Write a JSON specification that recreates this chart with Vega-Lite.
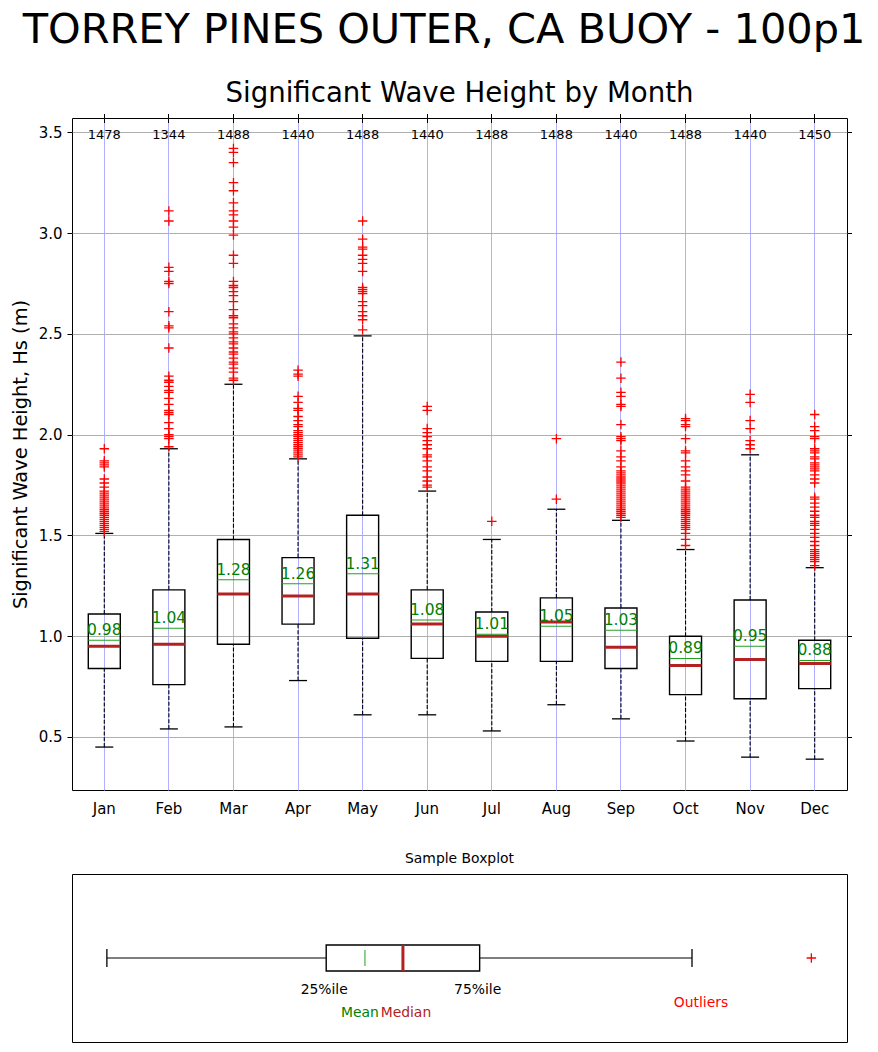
{
  "$schema": "https://vega.github.io/schema/vega-lite/v6.json",
  "padding": {"left": 9, "top": 10, "right": 20, "bottom": 5},
  "title": {"text": "TORREY PINES OUTER, CA BUOY - 100p1", "fontSize": 41.5, "fontWeight": "normal", "anchor": "middle", "offset": 28, "dx": 13, "color": "black"},
  "spacing": 34,
  "datasets": {
    "stats": [
      {"month": "Jan", "n": 1478, "low": 0.45, "q1": 0.84, "median": 0.95, "mean": 0.98, "q3": 1.11, "high": 1.51},
      {"month": "Feb", "n": 1344, "low": 0.54, "q1": 0.76, "median": 0.96, "mean": 1.04, "q3": 1.23, "high": 1.93},
      {"month": "Mar", "n": 1488, "low": 0.55, "q1": 0.96, "median": 1.21, "mean": 1.28, "q3": 1.48, "high": 2.25},
      {"month": "Apr", "n": 1440, "low": 0.78, "q1": 1.06, "median": 1.2, "mean": 1.26, "q3": 1.39, "high": 1.88},
      {"month": "May", "n": 1488, "low": 0.61, "q1": 0.99, "median": 1.21, "mean": 1.31, "q3": 1.6, "high": 2.49},
      {"month": "Jun", "n": 1440, "low": 0.61, "q1": 0.89, "median": 1.06, "mean": 1.08, "q3": 1.23, "high": 1.72},
      {"month": "Jul", "n": 1488, "low": 0.53, "q1": 0.875, "median": 1.0, "mean": 1.01, "q3": 1.12, "high": 1.48},
      {"month": "Aug", "n": 1488, "low": 0.66, "q1": 0.875, "median": 1.07, "mean": 1.05, "q3": 1.19, "high": 1.63},
      {"month": "Sep", "n": 1440, "low": 0.59, "q1": 0.84, "median": 0.945, "mean": 1.03, "q3": 1.14, "high": 1.575},
      {"month": "Oct", "n": 1488, "low": 0.48, "q1": 0.71, "median": 0.855, "mean": 0.89, "q3": 1.0, "high": 1.43},
      {"month": "Nov", "n": 1440, "low": 0.4, "q1": 0.69, "median": 0.885, "mean": 0.95, "q3": 1.18, "high": 1.9},
      {"month": "Dec", "n": 1450, "low": 0.39, "q1": 0.74, "median": 0.865, "mean": 0.88, "q3": 0.98, "high": 1.34}
    ],
    "outliers": [
      {"month": "Jan", "hs": 1.93}, {"month": "Jan", "hs": 1.87}, {"month": "Jan", "hs": 1.86}, {"month": "Jan", "hs": 1.85}, {"month": "Jan", "hs": 1.84},
      {"month": "Jan", "hs": 1.78}, {"month": "Jan", "hs": 1.76}, {"month": "Jan", "hs": 1.74}, {"month": "Jan", "hs": 1.72}, {"month": "Jan", "hs": 1.71},
      {"month": "Jan", "hs": 1.70}, {"month": "Jan", "hs": 1.69}, {"month": "Jan", "hs": 1.68}, {"month": "Jan", "hs": 1.67}, {"month": "Jan", "hs": 1.66},
      {"month": "Jan", "hs": 1.65}, {"month": "Jan", "hs": 1.64}, {"month": "Jan", "hs": 1.63}, {"month": "Jan", "hs": 1.62}, {"month": "Jan", "hs": 1.61},
      {"month": "Jan", "hs": 1.60}, {"month": "Jan", "hs": 1.59}, {"month": "Jan", "hs": 1.58}, {"month": "Jan", "hs": 1.57}, {"month": "Jan", "hs": 1.56},
      {"month": "Jan", "hs": 1.55}, {"month": "Jan", "hs": 1.54}, {"month": "Jan", "hs": 1.53}, {"month": "Jan", "hs": 1.52},
      {"month": "Feb", "hs": 3.11}, {"month": "Feb", "hs": 3.06}, {"month": "Feb", "hs": 2.83}, {"month": "Feb", "hs": 2.81}, {"month": "Feb", "hs": 2.76},
      {"month": "Feb", "hs": 2.75}, {"month": "Feb", "hs": 2.61}, {"month": "Feb", "hs": 2.54}, {"month": "Feb", "hs": 2.53}, {"month": "Feb", "hs": 2.43},
      {"month": "Feb", "hs": 2.29}, {"month": "Feb", "hs": 2.27}, {"month": "Feb", "hs": 2.26}, {"month": "Feb", "hs": 2.24}, {"month": "Feb", "hs": 2.22},
      {"month": "Feb", "hs": 2.21}, {"month": "Feb", "hs": 2.18}, {"month": "Feb", "hs": 2.15}, {"month": "Feb", "hs": 2.12}, {"month": "Feb", "hs": 2.11},
      {"month": "Feb", "hs": 2.10}, {"month": "Feb", "hs": 2.06}, {"month": "Feb", "hs": 2.03}, {"month": "Feb", "hs": 2.00}, {"month": "Feb", "hs": 1.99},
      {"month": "Feb", "hs": 1.98}, {"month": "Feb", "hs": 1.94},
      {"month": "Mar", "hs": 3.42}, {"month": "Mar", "hs": 3.40}, {"month": "Mar", "hs": 3.35}, {"month": "Mar", "hs": 3.25}, {"month": "Mar", "hs": 3.21},
      {"month": "Mar", "hs": 3.15}, {"month": "Mar", "hs": 3.11}, {"month": "Mar", "hs": 3.09}, {"month": "Mar", "hs": 3.06}, {"month": "Mar", "hs": 3.03},
      {"month": "Mar", "hs": 2.99}, {"month": "Mar", "hs": 2.89}, {"month": "Mar", "hs": 2.85}, {"month": "Mar", "hs": 2.76}, {"month": "Mar", "hs": 2.74},
      {"month": "Mar", "hs": 2.73}, {"month": "Mar", "hs": 2.71}, {"month": "Mar", "hs": 2.69}, {"month": "Mar", "hs": 2.66}, {"month": "Mar", "hs": 2.62},
      {"month": "Mar", "hs": 2.59}, {"month": "Mar", "hs": 2.58}, {"month": "Mar", "hs": 2.55}, {"month": "Mar", "hs": 2.53}, {"month": "Mar", "hs": 2.51},
      {"month": "Mar", "hs": 2.50}, {"month": "Mar", "hs": 2.48}, {"month": "Mar", "hs": 2.46}, {"month": "Mar", "hs": 2.45}, {"month": "Mar", "hs": 2.43},
      {"month": "Mar", "hs": 2.41}, {"month": "Mar", "hs": 2.40}, {"month": "Mar", "hs": 2.38}, {"month": "Mar", "hs": 2.36}, {"month": "Mar", "hs": 2.35},
      {"month": "Mar", "hs": 2.33}, {"month": "Mar", "hs": 2.31}, {"month": "Mar", "hs": 2.28}, {"month": "Mar", "hs": 2.27},
      {"month": "Apr", "hs": 2.32}, {"month": "Apr", "hs": 2.30}, {"month": "Apr", "hs": 2.29}, {"month": "Apr", "hs": 2.19}, {"month": "Apr", "hs": 2.16},
      {"month": "Apr", "hs": 2.13}, {"month": "Apr", "hs": 2.12}, {"month": "Apr", "hs": 2.09}, {"month": "Apr", "hs": 2.07}, {"month": "Apr", "hs": 2.05},
      {"month": "Apr", "hs": 2.04}, {"month": "Apr", "hs": 2.02}, {"month": "Apr", "hs": 2.01}, {"month": "Apr", "hs": 2.00}, {"month": "Apr", "hs": 1.99},
      {"month": "Apr", "hs": 1.98}, {"month": "Apr", "hs": 1.97}, {"month": "Apr", "hs": 1.96}, {"month": "Apr", "hs": 1.95}, {"month": "Apr", "hs": 1.94},
      {"month": "Apr", "hs": 1.93}, {"month": "Apr", "hs": 1.92}, {"month": "Apr", "hs": 1.91}, {"month": "Apr", "hs": 1.90}, {"month": "Apr", "hs": 1.89},
      {"month": "May", "hs": 3.06}, {"month": "May", "hs": 2.97}, {"month": "May", "hs": 2.93}, {"month": "May", "hs": 2.92}, {"month": "May", "hs": 2.89},
      {"month": "May", "hs": 2.87}, {"month": "May", "hs": 2.85}, {"month": "May", "hs": 2.81}, {"month": "May", "hs": 2.73}, {"month": "May", "hs": 2.72},
      {"month": "May", "hs": 2.71}, {"month": "May", "hs": 2.70}, {"month": "May", "hs": 2.66}, {"month": "May", "hs": 2.64}, {"month": "May", "hs": 2.61},
      {"month": "May", "hs": 2.59}, {"month": "May", "hs": 2.57}, {"month": "May", "hs": 2.52},
      {"month": "Jun", "hs": 2.14}, {"month": "Jun", "hs": 2.12}, {"month": "Jun", "hs": 2.03}, {"month": "Jun", "hs": 2.01}, {"month": "Jun", "hs": 1.99},
      {"month": "Jun", "hs": 1.97}, {"month": "Jun", "hs": 1.95}, {"month": "Jun", "hs": 1.93}, {"month": "Jun", "hs": 1.90}, {"month": "Jun", "hs": 1.89},
      {"month": "Jun", "hs": 1.87}, {"month": "Jun", "hs": 1.84}, {"month": "Jun", "hs": 1.82}, {"month": "Jun", "hs": 1.79}, {"month": "Jun", "hs": 1.77},
      {"month": "Jun", "hs": 1.75}, {"month": "Jun", "hs": 1.74},
      {"month": "Jul", "hs": 1.57},
      {"month": "Aug", "hs": 1.98}, {"month": "Aug", "hs": 1.68},
      {"month": "Sep", "hs": 2.36}, {"month": "Sep", "hs": 2.28}, {"month": "Sep", "hs": 2.21}, {"month": "Sep", "hs": 2.19}, {"month": "Sep", "hs": 2.15},
      {"month": "Sep", "hs": 2.14}, {"month": "Sep", "hs": 2.05}, {"month": "Sep", "hs": 1.99}, {"month": "Sep", "hs": 1.98}, {"month": "Sep", "hs": 1.97},
      {"month": "Sep", "hs": 1.92}, {"month": "Sep", "hs": 1.89}, {"month": "Sep", "hs": 1.87}, {"month": "Sep", "hs": 1.84}, {"month": "Sep", "hs": 1.82},
      {"month": "Sep", "hs": 1.81}, {"month": "Sep", "hs": 1.80}, {"month": "Sep", "hs": 1.79}, {"month": "Sep", "hs": 1.78}, {"month": "Sep", "hs": 1.77},
      {"month": "Sep", "hs": 1.76}, {"month": "Sep", "hs": 1.75}, {"month": "Sep", "hs": 1.74}, {"month": "Sep", "hs": 1.73}, {"month": "Sep", "hs": 1.72},
      {"month": "Sep", "hs": 1.71}, {"month": "Sep", "hs": 1.70}, {"month": "Sep", "hs": 1.69}, {"month": "Sep", "hs": 1.68}, {"month": "Sep", "hs": 1.67},
      {"month": "Sep", "hs": 1.66}, {"month": "Sep", "hs": 1.65}, {"month": "Sep", "hs": 1.64}, {"month": "Sep", "hs": 1.63}, {"month": "Sep", "hs": 1.62},
      {"month": "Sep", "hs": 1.61}, {"month": "Sep", "hs": 1.60}, {"month": "Sep", "hs": 1.59},
      {"month": "Oct", "hs": 2.08}, {"month": "Oct", "hs": 2.07}, {"month": "Oct", "hs": 2.05}, {"month": "Oct", "hs": 2.04}, {"month": "Oct", "hs": 1.98},
      {"month": "Oct", "hs": 1.92}, {"month": "Oct", "hs": 1.91}, {"month": "Oct", "hs": 1.87}, {"month": "Oct", "hs": 1.84}, {"month": "Oct", "hs": 1.82},
      {"month": "Oct", "hs": 1.80}, {"month": "Oct", "hs": 1.77}, {"month": "Oct", "hs": 1.74}, {"month": "Oct", "hs": 1.73}, {"month": "Oct", "hs": 1.72},
      {"month": "Oct", "hs": 1.71}, {"month": "Oct", "hs": 1.70}, {"month": "Oct", "hs": 1.69}, {"month": "Oct", "hs": 1.68}, {"month": "Oct", "hs": 1.67},
      {"month": "Oct", "hs": 1.66}, {"month": "Oct", "hs": 1.65}, {"month": "Oct", "hs": 1.64}, {"month": "Oct", "hs": 1.63}, {"month": "Oct", "hs": 1.62},
      {"month": "Oct", "hs": 1.61}, {"month": "Oct", "hs": 1.60}, {"month": "Oct", "hs": 1.59}, {"month": "Oct", "hs": 1.58}, {"month": "Oct", "hs": 1.57},
      {"month": "Oct", "hs": 1.56}, {"month": "Oct", "hs": 1.55}, {"month": "Oct", "hs": 1.54}, {"month": "Oct", "hs": 1.53}, {"month": "Oct", "hs": 1.51},
      {"month": "Oct", "hs": 1.48}, {"month": "Oct", "hs": 1.45},
      {"month": "Nov", "hs": 2.20}, {"month": "Nov", "hs": 2.16}, {"month": "Nov", "hs": 2.07}, {"month": "Nov", "hs": 2.03}, {"month": "Nov", "hs": 1.97},
      {"month": "Nov", "hs": 1.95}, {"month": "Nov", "hs": 1.93},
      {"month": "Dec", "hs": 2.10}, {"month": "Dec", "hs": 2.04}, {"month": "Dec", "hs": 2.02}, {"month": "Dec", "hs": 1.99}, {"month": "Dec", "hs": 1.98},
      {"month": "Dec", "hs": 1.93}, {"month": "Dec", "hs": 1.92}, {"month": "Dec", "hs": 1.91}, {"month": "Dec", "hs": 1.89}, {"month": "Dec", "hs": 1.88},
      {"month": "Dec", "hs": 1.86}, {"month": "Dec", "hs": 1.85}, {"month": "Dec", "hs": 1.84}, {"month": "Dec", "hs": 1.83}, {"month": "Dec", "hs": 1.82},
      {"month": "Dec", "hs": 1.80}, {"month": "Dec", "hs": 1.78}, {"month": "Dec", "hs": 1.76}, {"month": "Dec", "hs": 1.69}, {"month": "Dec", "hs": 1.68},
      {"month": "Dec", "hs": 1.66}, {"month": "Dec", "hs": 1.64}, {"month": "Dec", "hs": 1.62}, {"month": "Dec", "hs": 1.60}, {"month": "Dec", "hs": 1.59},
      {"month": "Dec", "hs": 1.57}, {"month": "Dec", "hs": 1.56}, {"month": "Dec", "hs": 1.55}, {"month": "Dec", "hs": 1.53}, {"month": "Dec", "hs": 1.51},
      {"month": "Dec", "hs": 1.49}, {"month": "Dec", "hs": 1.47}, {"month": "Dec", "hs": 1.45}, {"month": "Dec", "hs": 1.43}, {"month": "Dec", "hs": 1.42},
      {"month": "Dec", "hs": 1.41}, {"month": "Dec", "hs": 1.40}, {"month": "Dec", "hs": 1.39}, {"month": "Dec", "hs": 1.38}, {"month": "Dec", "hs": 1.37},
      {"month": "Dec", "hs": 1.35}
    ],
    "sample": [
      {"name": "sample", "low": 0.045, "q1": 0.328, "median": 0.427, "mean": 0.378, "q3": 0.526, "high": 0.8, "outlier": 0.954}
    ]
  },
  "vconcat": [
    {
      "width": 775,
      "height": 672,
      "title": {"text": "Significant Wave Height by Month", "fontSize": 27.6, "fontWeight": "normal", "anchor": "middle", "frame": "group", "offset": 5, "color": "black"},
      "resolve": {"axis": {"x": "independent", "y": "independent"}},
      "layer": [
        {
          "data": {"name": "stats"},
          "mark": {"type": "rule", "color": "black", "strokeWidth": 1.1, "strokeDash": [4, 1.8], "opacity": 1},
          "encoding": {
            "x": {"field": "month", "type": "nominal", "scale": {"domain": ["Jan","Feb","Mar","Apr","May","Jun","Jul","Aug","Sep","Oct","Nov","Dec"], "paddingInner": 0, "paddingOuter": 0},
                  "axis": {"orient": "bottom", "title": null, "labelAngle": 0, "labelFontSize": 15, "labelPadding": 11, "ticks": false, "grid": true, "gridColor": "#b0b0ff", "gridWidth": 1, "bandPosition": 0.5, "domain": false}},
            "y": {"field": "low", "type": "quantitative", "scale": {"domain": [0.237, 3.571], "nice": false, "zero": false},
                  "axis": {"orient": "left", "title": "Significant Wave Height, Hs (m)", "titleFontSize": 19.4, "titleFontWeight": "normal", "titlePadding": 8, "values": [0.5, 1.0, 1.5, 2.0, 2.5, 3.0, 3.5], "format": ".1f", "labelFontSize": 15, "labelPadding": 5, "tickSize": 5, "grid": true, "gridColor": "#b0b0b0", "gridWidth": 1, "domain": false}},
            "y2": {"field": "q1"}
          }
        },
        {
          "data": {"name": "stats"},
          "mark": {"type": "rule", "color": "black", "strokeWidth": 1.1, "strokeDash": [4, 1.8], "opacity": 1},
          "encoding": {
            "x": {"field": "month", "type": "nominal", "axis": {"orient": "top", "title": null, "labels": false, "ticks": true, "tickSize": 4.5, "grid": false, "bandPosition": 0.5, "domain": false}},
            "y": {"field": "q3", "type": "quantitative", "axis": {"orient": "right", "title": null, "labels": false, "values": [0.5, 1.0, 1.5, 2.0, 2.5, 3.0, 3.5], "tickSize": 4.5, "grid": false, "domain": false}},
            "y2": {"field": "high"}
          }
        },
        {
          "data": {"name": "stats"},
          "mark": {"type": "tick", "color": "black", "size": 18, "thickness": 1.3, "opacity": 1},
          "encoding": {
            "x": {"field": "month", "type": "nominal", "axis": {"orient": "top", "title": null, "labels": false, "ticks": true, "tickSize": -4.5, "grid": false, "bandPosition": 0.5, "domain": false}},
            "y": {"field": "low", "type": "quantitative", "axis": null}
          }
        },
        {
          "data": {"name": "stats"},
          "mark": {"type": "tick", "color": "black", "size": 18, "thickness": 1.3, "opacity": 1},
          "encoding": {
            "x": {"field": "month", "type": "nominal", "axis": null},
            "y": {"field": "high", "type": "quantitative", "axis": null}
          }
        },
        {
          "data": {"name": "stats"},
          "mark": {"type": "bar", "width": 32, "fillOpacity": 0, "stroke": "black", "strokeWidth": 1.4, "opacity": 1},
          "encoding": {
            "x": {"field": "month", "type": "nominal", "axis": null},
            "y": {"field": "q1", "type": "quantitative", "axis": null},
            "y2": {"field": "q3"}
          }
        },
        {
          "data": {"name": "stats"},
          "mark": {"type": "tick", "color": "#b22222", "size": 32, "thickness": 3, "opacity": 1},
          "encoding": {
            "x": {"field": "month", "type": "nominal", "axis": null},
            "y": {"field": "median", "type": "quantitative", "axis": null}
          }
        },
        {
          "data": {"name": "stats"},
          "mark": {"type": "tick", "color": "#22a022", "size": 32, "thickness": 1, "opacity": 1},
          "encoding": {
            "x": {"field": "month", "type": "nominal", "axis": null},
            "y": {"field": "mean", "type": "quantitative", "axis": null}
          }
        },
        {
          "data": {"name": "stats"},
          "mark": {"type": "text", "color": "#008000", "fontSize": 15.5, "baseline": "bottom", "align": "center", "dy": -2},
          "encoding": {
            "x": {"field": "month", "type": "nominal", "axis": null},
            "y": {"field": "mean", "type": "quantitative", "axis": null},
            "text": {"field": "mean", "type": "quantitative", "format": ".2f"}
          }
        },
        {
          "data": {"name": "stats"},
          "mark": {"type": "text", "color": "black", "fontSize": 13, "baseline": "middle", "align": "center"},
          "encoding": {
            "x": {"field": "month", "type": "nominal", "axis": null},
            "y": {"datum": 3.485, "type": "quantitative", "axis": null},
            "text": {"field": "n", "type": "quantitative", "format": "d"}
          }
        },
        {
          "data": {"name": "outliers"},
          "mark": {"type": "point", "shape": "M-1,0L1,0M0,-1L0,1", "filled": false, "color": "red", "stroke": "red", "strokeWidth": 1.3, "size": 90, "opacity": 1},
          "encoding": {
            "x": {"field": "month", "type": "nominal", "axis": null},
            "y": {"field": "hs", "type": "quantitative", "axis": null}
          }
        }
      ]
    },
    {
      "width": 775,
      "height": 168,
      "title": {"text": "Sample Boxplot", "fontSize": 13.9, "fontWeight": "normal", "anchor": "middle", "frame": "group", "offset": 8, "color": "black"},
      "data": {"name": "sample"},
      "encoding": {
        "y": {"field": "name", "type": "nominal", "axis": null, "scale": {"paddingInner": 0, "paddingOuter": 0}}
      },
      "layer": [
        {
          "mark": {"type": "rule", "color": "black", "strokeWidth": 1.1},
          "encoding": {
            "x": {"field": "low", "type": "quantitative", "axis": null, "scale": {"domain": [0, 1], "nice": false, "zero": false}},
            "x2": {"field": "q1"}
          }
        },
        {
          "mark": {"type": "rule", "color": "black", "strokeWidth": 1.1},
          "encoding": {
            "x": {"field": "q3", "type": "quantitative", "axis": null},
            "x2": {"field": "high"}
          }
        },
        {
          "mark": {"type": "tick", "color": "black", "size": 18, "thickness": 1.3, "opacity": 1},
          "encoding": {"x": {"field": "low", "type": "quantitative", "axis": null}}
        },
        {
          "mark": {"type": "tick", "color": "black", "size": 18, "thickness": 1.3, "opacity": 1},
          "encoding": {"x": {"field": "high", "type": "quantitative", "axis": null}}
        },
        {
          "mark": {"type": "bar", "height": 26, "fillOpacity": 0, "stroke": "black", "strokeWidth": 1.4, "opacity": 1},
          "encoding": {
            "x": {"field": "q1", "type": "quantitative", "axis": null},
            "x2": {"field": "q3"}
          }
        },
        {
          "mark": {"type": "tick", "color": "#22a022", "size": 16, "thickness": 1, "opacity": 1},
          "encoding": {"x": {"field": "mean", "type": "quantitative", "axis": null}}
        },
        {
          "mark": {"type": "tick", "color": "#b22222", "size": 26, "thickness": 3, "opacity": 1},
          "encoding": {"x": {"field": "median", "type": "quantitative", "axis": null}}
        },
        {
          "mark": {"type": "point", "shape": "M-1,0L1,0M0,-1L0,1", "filled": false, "color": "red", "stroke": "red", "strokeWidth": 1.3, "size": 90, "opacity": 1},
          "encoding": {"x": {"field": "outlier", "type": "quantitative", "axis": null}}
        },
        {
          "mark": {"type": "text", "color": "black", "fontSize": 13.9, "baseline": "middle", "align": "center", "dy": 32, "dx": -2},
          "encoding": {"x": {"field": "q1", "type": "quantitative", "axis": null}, "text": {"value": "25%ile"}}
        },
        {
          "mark": {"type": "text", "color": "black", "fontSize": 13.9, "baseline": "middle", "align": "center", "dy": 32, "dx": -2},
          "encoding": {"x": {"field": "q3", "type": "quantitative", "axis": null}, "text": {"value": "75%ile"}}
        },
        {
          "mark": {"type": "text", "color": "#008000", "fontSize": 13.9, "baseline": "middle", "align": "center", "dy": 55, "dx": -5},
          "encoding": {"x": {"field": "mean", "type": "quantitative", "axis": null}, "text": {"value": "Mean"}}
        },
        {
          "mark": {"type": "text", "color": "#b22222", "fontSize": 13.9, "baseline": "middle", "align": "center", "dy": 55, "dx": 3},
          "encoding": {"x": {"field": "median", "type": "quantitative", "axis": null}, "text": {"value": "Median"}}
        },
        {
          "mark": {"type": "text", "color": "red", "fontSize": 13.9, "baseline": "middle", "align": "center", "dy": 45, "dx": 9},
          "encoding": {"x": {"field": "high", "type": "quantitative", "axis": null}, "text": {"value": "Outliers"}}
        }
      ]
    }
  ],
  "config": {
    "font": "DejaVu Sans",
    "background": "white",
    "view": {"stroke": "black", "strokeWidth": 1},
    "axis": {"labelColor": "black", "tickColor": "black", "titleColor": "black", "labelFont": "DejaVu Sans", "titleFont": "DejaVu Sans"},
    "title": {"font": "DejaVu Sans", "color": "black"}
  }
}
